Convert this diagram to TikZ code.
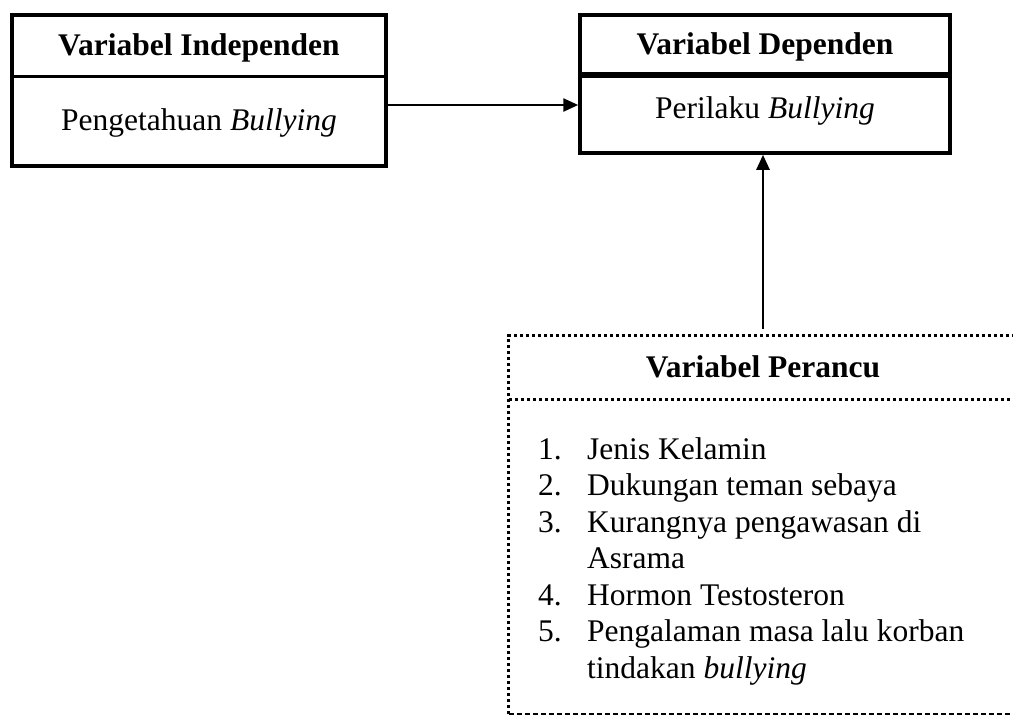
\documentclass[tikz,border=0pt]{standalone}
\usepackage{fontspec}
\setmainfont{Liberation Serif}
\usetikzlibrary{arrows.meta}
\begin{document}
\begin{tikzpicture}[x=1pt,y=-1pt,
  box/.style={draw,line width=3.5pt,rectangle,inner sep=0pt},
  txt/.style={inner sep=0pt,anchor=base,font=\fontsize{31.5}{36}\selectfont},
  htxt/.style={txt,font=\fontsize{31.5}{36}\selectfont\bfseries},
  ltxt/.style={txt,anchor=base west},
  arr/.style={line width=2.5pt,-{Triangle[length=15pt,width=13pt]}},
  dotline/.style={line width=3pt,dash pattern=on 3pt off 3pt},
  dashline/.style={line width=1.5pt,dash pattern=on 5pt off 3pt}]
\useasboundingbox (0,0) rectangle (1013,716);
% left box
\node[box,minimum width=374pt,minimum height=151pt] (L) at (199,90.5) {};
\draw[line width=3.5pt] ([yshift=-63pt]L.north west) -- ([yshift=-63pt]L.north east);
\node[htxt] (Lh) at (199,55) {Variabel Independen};
\node[txt] (Lt) at (199,130) {Pengetahuan \textit{Bullying}};
% right box
\node[box,minimum width=370pt,minimum height=138pt] (R) at (765,84) {};
\draw[line width=6pt] ([yshift=-62pt]R.north west) -- ([yshift=-62pt]R.north east);
\node[htxt] (Rh) at (765,54) {Variabel Dependen};
\node[txt] (Rt) at (765,118) {Perilaku \textit{Bullying}};
% confounder box
\node[inner sep=0pt,minimum width=508pt,minimum height=378pt] (P) at (763,525) {};
\draw[dotline] (P.south west) -- (P.north west) -- (P.north east) -- (P.south east);
\draw[dashline] (P.south west) -- (P.south east);
\draw[dotline] ([yshift=-64pt]P.north west) -- ([yshift=-64pt]P.north east);
\node[htxt] (Ph) at (763,377) {Variabel Perancu};
\node[ltxt] (n1) at (538,459) {1.};
\node[ltxt] (t1) at (587,459) {Jenis Kelamin};
\node[ltxt] (n2) at (538,495.5) {2.};
\node[ltxt] (t2) at (587,495.5) {Dukungan teman sebaya};
\node[ltxt] (n3) at (538,532) {3.};
\node[ltxt] (t3) at (587,532) {Kurangnya pengawasan di};
\node[ltxt] (t3b) at (587,568.5) {Asrama};
\node[ltxt] (n4) at (538,605) {4.};
\node[ltxt] (t4) at (587,605) {Hormon Testosteron};
\node[ltxt] (n5) at (538,641.5) {5.};
\node[ltxt] (t5) at (587,641.5) {Pengalaman masa lalu korban};
\node[ltxt] (t5b) at (587,678) {tindakan \textit{bullying}};
% connectors
\draw[arr] ([yshift=-14.5pt]L.east) -- ([yshift=-21pt]R.west);
\draw[arr] ([yshift=7pt]P.north) -- (P.north |- R.south);
\end{tikzpicture}
\end{document}
